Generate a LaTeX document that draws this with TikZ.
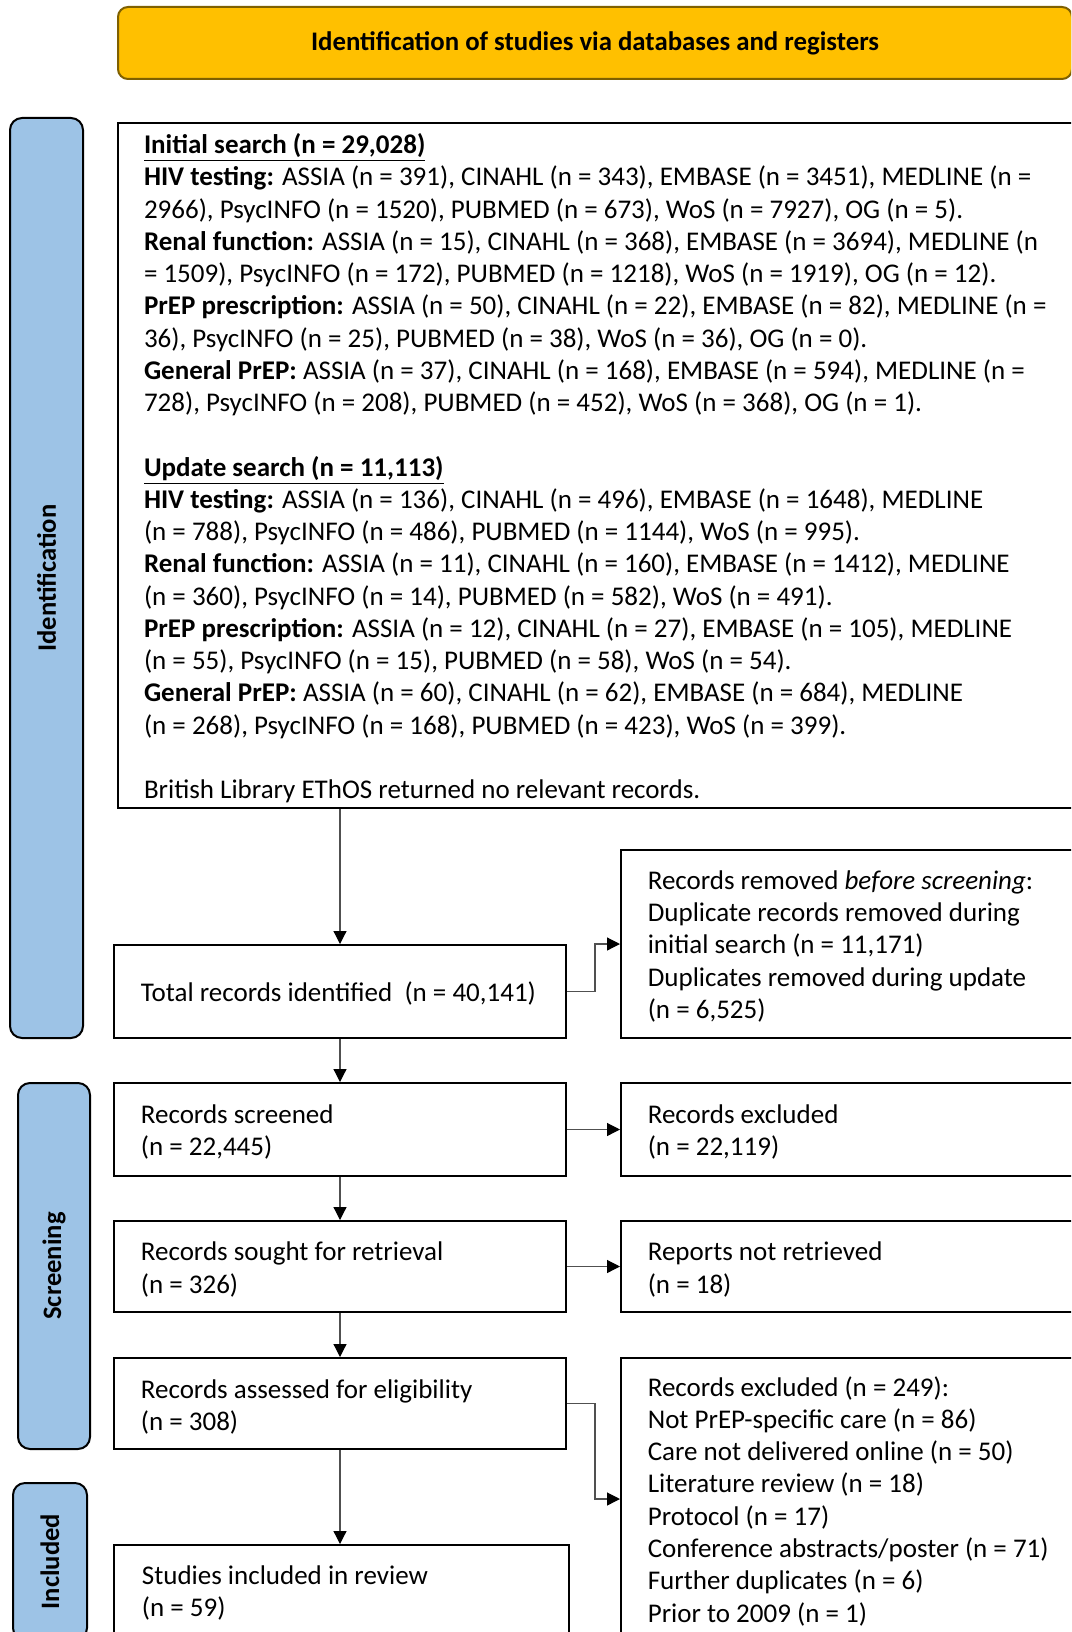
\documentclass[tikz,border=0pt]{standalone}
\usepackage{fontspec}
\setmainfont{Carlito}
\usetikzlibrary{arrows.meta}
\definecolor{bannerfill}{HTML}{FFC000}
\definecolor{bannerline}{HTML}{7F6000}
\definecolor{stagefill}{HTML}{9DC3E6}
\definecolor{linkgray}{HTML}{505050}
\newcommand{\bodyfont}{\fontsize{13.5pt}{16.13pt}\selectfont}
\newcommand{\stagefont}{\fontsize{13.3pt}{16pt}\selectfont\bfseries}
\newcommand{\titlefont}{\fontsize{13.4pt}{16pt}\selectfont\bfseries}
\newcommand{\hd}[1]{\underline{\textbf{#1}}}

\begin{document}
\begin{tikzpicture}[x=0.5pt,y=-0.5pt,
  box/.style={draw=black, line width=1pt, fill=white, inner sep=0pt},
  banner/.style={draw=bannerline, line width=1pt, fill=bannerfill, rounded corners=5pt, inner sep=0pt},
  stage/.style={draw=black, line width=1pt, fill=stagefill, rounded corners=6pt, inner sep=0pt},
  txt/.style={anchor=north west, inner sep=0pt, align=left, font=\bodyfont},
  link/.style={draw=linkgray, line width=0.6pt,
    -{Triangle[length=6.5pt,width=6.5pt,color=black]}},
]
\useasboundingbox (0,0) rectangle (1071,1632);
\clip (0,0) rectangle (1071,1632);

% header
\node[banner, minimum width=477pt, minimum height=36pt] (banner) at (595,43)
  {\titlefont Identification of studies via databases and registers};

% stage labels
\node[stage, minimum width=36.5pt, minimum height=460pt] (idstage) at (46.5,578)
  {\rotatebox{90}{\stagefont Identification}};
\node[stage, minimum width=36pt, minimum height=183pt] (scrstage) at (54,1266)
  {\rotatebox{90}{\stagefont Screening}};
\node[stage, minimum width=37pt, minimum height=78.5pt] (incstage) at (50,1561.5)
  {\rotatebox{90}{\stagefont Included}};

% search records
\node[box, minimum width=478pt, minimum height=342.5pt] (search) at (596,465.5) {};
\node[txt] (searchtext) at (143.6,130.5) {\strut\hd{Initial search (n = 29,028)}\\
\textbf{HIV testing:} ASSIA (n = 391), CINAHL (n = 343), EMBASE (n = 3451), MEDLINE (n =\\
2966), PsycINFO (n = 1520), PUBMED (n = 673), WoS (n = 7927), OG (n = 5).\\
\textbf{Renal function:} ASSIA (n = 15), CINAHL (n = 368), EMBASE (n = 3694), MEDLINE (n\\
= 1509), PsycINFO (n = 172), PUBMED (n = 1218), WoS (n = 1919), OG (n = 12).\\
\textbf{PrEP prescription:} ASSIA (n = 50), CINAHL (n = 22), EMBASE (n = 82), MEDLINE (n =\\
36), PsycINFO (n = 25), PUBMED (n = 38), WoS (n = 36), OG (n = 0).\\
\textbf{General PrEP:} ASSIA (n = 37), CINAHL (n = 168), EMBASE (n = 594), MEDLINE (n =\\
728), PsycINFO (n = 208), PUBMED (n = 452), WoS (n = 368), OG (n = 1).\\
\strut\\
\hd{Update search (n = 11,113)}\\
\textbf{HIV testing:} ASSIA (n = 136), CINAHL (n = 496), EMBASE (n = 1648), MEDLINE\\
(n = 788), PsycINFO (n = 486), PUBMED (n = 1144), WoS (n = 995).\\
\textbf{Renal function:} ASSIA (n = 11), CINAHL (n = 160), EMBASE (n = 1412), MEDLINE\\
(n = 360), PsycINFO (n = 14), PUBMED (n = 582), WoS (n = 491).\\
\textbf{PrEP prescription:} ASSIA (n = 12), CINAHL (n = 27), EMBASE (n = 105), MEDLINE\\
(n = 55), PsycINFO (n = 15), PUBMED (n = 58), WoS (n = 54).\\
\textbf{General PrEP:} ASSIA (n = 60), CINAHL (n = 62), EMBASE (n = 684), MEDLINE\\
(n = 268), PsycINFO (n = 168), PUBMED (n = 423), WoS (n = 399).\\
\strut\\
British Library EThOS returned no relevant records.};

% flow boxes, left column
\node[box, minimum width=226pt, minimum height=46.5pt] (total) at (340,991.5) {};
\node[txt] (totaltext) at (140.5,978.9) {\strut Total records identified\ \ (n = 40,141)};
\node[box, minimum width=226pt, minimum height=46.5pt] (screened) at (340,1129.5) {};
\node[txt] (screenedtext) at (140.5,1100.6) {\strut Records screened\\(n = 22,445)};
\node[box, minimum width=226pt, minimum height=45.5pt] (sought) at (340,1266.5) {};
\node[txt] (soughttext) at (140.5,1237.9) {\strut Records sought for retrieval\\(n = 326)};
\node[box, minimum width=226pt, minimum height=45.5pt] (assessed) at (340,1403.5) {};
\node[txt] (assessedtext) at (140.5,1375.4) {\strut Records assessed for eligibility\\(n = 308)};
\node[box, minimum width=227.5pt, minimum height=50pt] (included) at (341.5,1595) {};
\node[txt] (includedtext) at (141.5,1561.7) {\strut Studies included in review\\(n = 59)};

% flow boxes, right column
\node[box, minimum width=226.5pt, minimum height=94pt] (removed) at (847.5,944) {};
\node[txt] (removedtext) at (647.4,866.4) {\strut Records removed \textit{before screening}:\\
Duplicate records removed during\\
initial search (n = 11,171)\\
Duplicates removed during update\\
(n = 6,525)};
\node[box, minimum width=226.5pt, minimum height=46.5pt] (excl1) at (847.5,1129.5) {};
\node[txt] (excl1text) at (647.4,1100.6) {\strut Records excluded\\(n = 22,119)};
\node[box, minimum width=226.5pt, minimum height=45.5pt] (notret) at (847.5,1266.5) {};
\node[txt] (notrettext) at (647.4,1237.9) {\strut Reports not retrieved\\(n = 18)};
\node[box, minimum width=226.5pt, minimum height=141pt] (excl2) at (847.5,1499) {};
\node[txt] (excl2text) at (647.4,1373.2) {\strut Records excluded (n = 249):\\
Not PrEP-specific care (n = 86)\\
Care not delivered online (n = 50)\\
Literature review (n = 18)\\
Protocol (n = 17)\\
Conference abstracts/poster (n = 71)\\
Further duplicates (n = 6)\\
Prior to 2009 (n = 1)};

% connectors
\draw[link] (total.north |- search.south) -- (total.north);
\draw[link] (total.east) -- ++(28,0) |- (removed.west);
\draw[link] (total.south) -- (screened.north);
\draw[link] (screened.east) -- (excl1.west);
\draw[link] (screened.south) -- (sought.north);
\draw[link] (sought.east) -- (notret.west);
\draw[link] (sought.south) -- (assessed.north);
\draw[link] (assessed.east) -- ++(28,0) |- (excl2.west);
\draw[link] (assessed.south) -- (assessed.south |- included.north);
\end{tikzpicture}
\end{document}
